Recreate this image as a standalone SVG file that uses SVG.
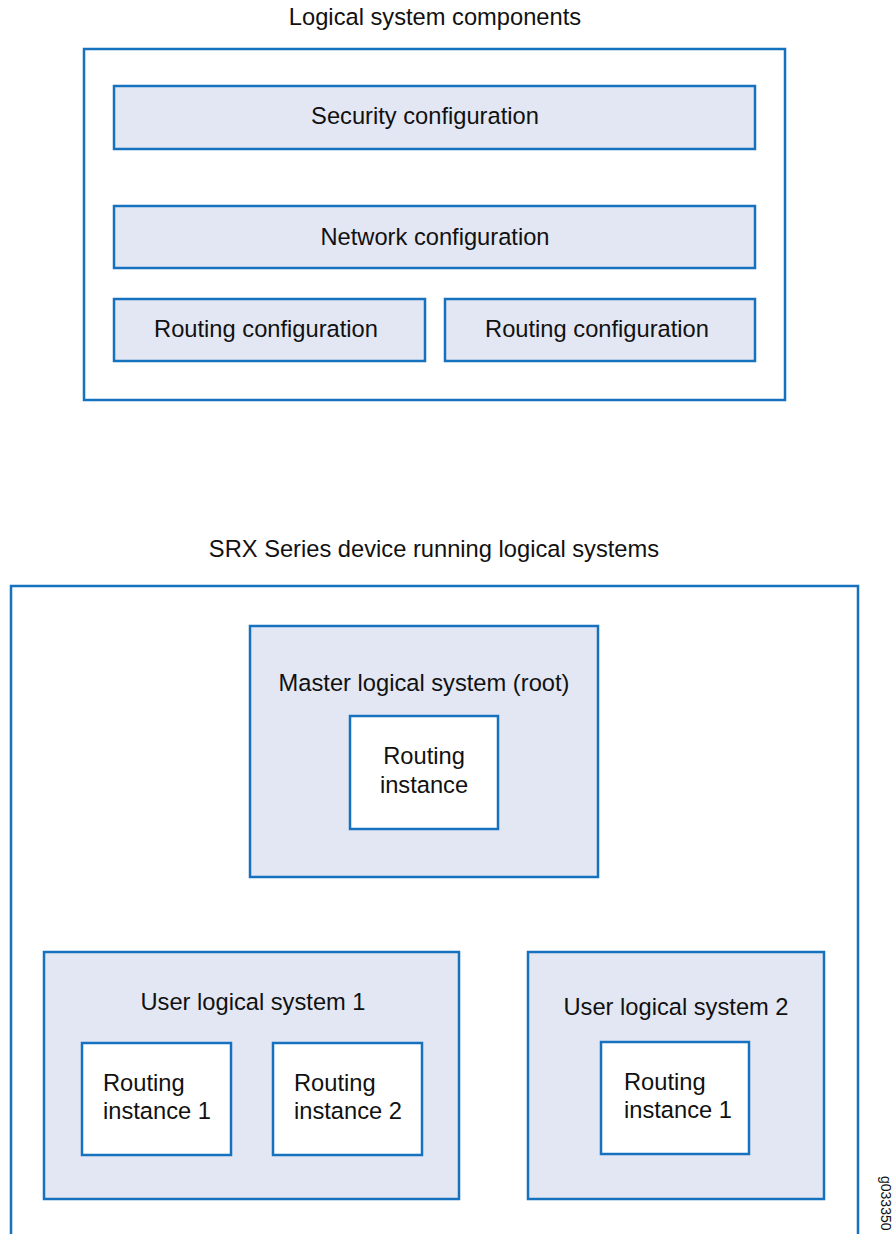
<svg xmlns="http://www.w3.org/2000/svg" width="895" height="1234" viewBox="0 0 895 1234">
<style>
text{font-family:"Liberation Sans",Arial,sans-serif;font-size:23.7px;fill:#111}
.c{text-anchor:middle}
.outer{fill:#fff;stroke:#1672be;stroke-width:2.5}
.sys{fill:#e3e7f3;stroke:#1672be;stroke-width:2.5}
.inner{fill:#fff;stroke:#1672be;stroke-width:2.5}
</style>
<rect width="895" height="1234" fill="#fff"/>
<g id="components">
<text class="c" x="435" y="25">Logical system components</text>
<rect class="outer" x="84" y="49" width="701" height="351"/>
</g>
<g id="security"><rect class="sys" x="114" y="86" width="641" height="63"/><text class="c" x="425" y="124">Security configuration</text></g>
<g id="network"><rect class="sys" x="114" y="206" width="641" height="62"/><text class="c" x="435" y="245">Network configuration</text></g>
<g id="routing1"><rect class="sys" x="114" y="299" width="311" height="62"/><text class="c" x="266" y="337">Routing configuration</text></g>
<g id="routing2"><rect class="sys" x="445" y="299" width="310" height="62"/><text class="c" x="597" y="337">Routing configuration</text></g>
<g id="srx">
<text class="c" x="434" y="557">SRX Series device running logical systems</text>
<path class="outer" d="M11,1240 V586 H858 V1240"/>
</g>
<g id="master"><rect class="sys" x="250" y="626" width="348" height="251"/><text class="c" x="424" y="691">Master logical system (root)</text></g>
<g id="master-ri"><rect class="inner" x="350" y="716" width="148" height="113"/><text class="c" x="424" y="764">Routing</text><text class="c" x="424" y="793">instance</text></g>
<g id="user1"><rect class="sys" x="44" y="952" width="415" height="247"/><text class="c" x="253" y="1010">User logical system 1</text></g>
<g id="user1-ri1"><rect class="inner" x="82" y="1043" width="149" height="112"/><text x="103" y="1091">Routing</text><text x="103" y="1119">instance 1</text></g>
<g id="user1-ri2"><rect class="inner" x="273" y="1043" width="149" height="112"/><text x="294" y="1091">Routing</text><text x="294" y="1119">instance 2</text></g>
<g id="user2"><rect class="sys" x="528" y="952" width="296" height="247"/><text class="c" x="676" y="1015">User logical system 2</text></g>
<g id="user2-ri1"><rect class="inner" x="601" y="1042" width="148" height="112"/><text x="624" y="1090">Routing</text><text x="624" y="1118">instance 1</text></g>
<g id="connectors"></g>
<text x="881" y="1176" transform="rotate(90 881 1176)" style="font-size:14px">g033350</text>
</svg>
